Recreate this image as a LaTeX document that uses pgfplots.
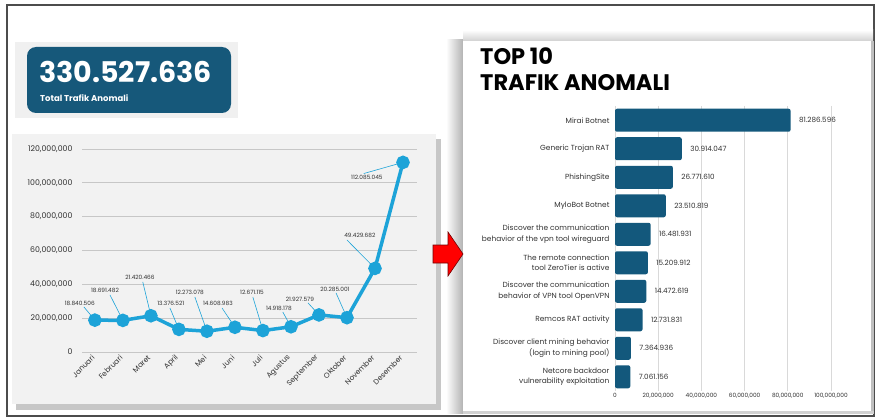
\documentclass[border=0pt]{standalone}
\usepackage{pgfplots}
\pgfplotsset{compat=1.18}
\usepackage{fontspec}
\setmainfont{Poppins}
\definecolor{lineblue}{RGB}{29,163,216}
\definecolor{barblue}{RGB}{19,88,124}
\definecolor{badgeblue}{RGB}{22,88,122}
\definecolor{txt}{RGB}{50,50,50}
\definecolor{panelgray}{RGB}{242,242,242}
\begin{document}
\begin{tikzpicture}
\useasboundingbox (0,0) rectangle (876pt,-417pt);
\fill[white] (0,0) rectangle (876pt,-417pt);
\begin{scope}[x=1pt,y=-1pt]
  % outer frame
  \draw[black!70,line width=1.2pt] (7,5) rectangle (874,416);
  % badge
  \fill[black!6] (15,42) rectangle (238,118);
  \fill[badgeblue,rounded corners=9pt] (27,47) rectangle (231,113);
  \node[anchor=base west,inner sep=0,text=white,font=\fontsize{28.5}{30}\selectfont\bfseries] at (39,83) {330.527.636};
  \node[anchor=base west,inner sep=0,text=white,font=\fontsize{8.5}{10}\selectfont\bfseries] at (40,102) {Total Trafik Anomali};
  % left panel
  \fill[black!22] (16,139) rectangle (441,410);
  \fill[panelgray] (12,134) rectangle (436,404);
  % right panel shadows
  \shade[left color=white,right color=black!30] (446,40) rectangle (463,413);
  \shade[top color=white,bottom color=black!18] (463,30) rectangle (873,41);
  \fill[white] (463,41) rectangle (871,411);
  \fill[black!25] (871,41) rectangle (874,413);
  \fill[black!18] (463,411) rectangle (874,414);
  % title
  \node[anchor=base west,inner sep=0,font=\fontsize{22.5}{24}\selectfont\bfseries] at (480,65) {TOP 10};
  \node[anchor=base west,inner sep=0,font=\fontsize{22.5}{24}\selectfont\bfseries] at (480,91) {TRAFIK ANOMALI};
  % red arrow
  \filldraw[fill=red,draw=red!45!black,line width=0.6pt] (433,245) -- (448,245) -- (448,232) -- (463,254) -- (448,276) -- (448,263) -- (433,263) -- cycle;
\end{scope}

% line chart
\begin{axis}[
  at={(82pt,-352pt)}, anchor=south west,
  scale only axis, width=335pt, height=203pt,
  xmin=-0.46, xmax=11.5, ymin=0, ymax=120000000,
  axis line style={draw=none}, major tick length=0pt,
  ymajorgrids, grid style={black!22,line width=0.8pt},
  ytick={0,20000000,40000000,60000000,80000000,100000000,120000000},
  scaled y ticks=false,
  /pgf/number format/fixed,
  /pgf/number format/1000 sep={,},
  /pgf/number format/assume math mode=true,
  yticklabel style={font=\fontsize{7.8}{9}\selectfont,text=txt,xshift=-6pt},
  xtick={0,...,11},
  xticklabels={Januari,Februari,Maret,April,Mei,Juni,Juli,Agustus,September,Oktober,November,Desember},
  xticklabel style={rotate=45,anchor=east,font=\fontsize{7.3}{9}\selectfont,text=txt,xshift=-1pt,yshift=-2pt},
  clip=false,
]
\addplot[color=lineblue,line width=3.5pt,mark=*,mark size=5pt,mark options={fill=lineblue,draw=none}] coordinates {
  (0,18840506) (1,18691482) (2,21420466) (3,13376521) (4,12273078) (5,14608983)
  (6,12671115) (7,14918178) (8,21927579) (9,20285001) (10,49429682) (11,112085045)};
\begin{scope}[lineblue,line width=0.6pt]
\draw (axis cs:-0.39,26600000) -- (axis cs:0,18840506);
\draw (axis cs:0.54,33700000) -- (axis cs:1,18691482);
\draw (axis cs:1.71,41400000) -- (axis cs:2,21420466);
\draw (axis cs:2.68,26000000) -- (axis cs:3,13376521);
\draw (axis cs:3.57,32500000) -- (axis cs:4,12273078);
\draw (axis cs:4.54,26000000) -- (axis cs:5,14608983);
\draw (axis cs:5.64,32500000) -- (axis cs:6,12671115);
\draw (axis cs:6.71,23600000) -- (axis cs:7,14918178);
\draw (axis cs:7.61,29000000) -- (axis cs:8,21927579);
\draw (axis cs:8.61,34900000) -- (axis cs:9,20285001);
\draw (axis cs:9.0,66200000) -- (axis cs:10,49429682);
\draw (axis cs:9.6,105500000) -- (axis cs:11,112085045);
\end{scope}
\begin{scope}[every node/.style={font=\fontsize{5.8}{7}\selectfont,text=txt,inner sep=0.5pt}]
\node at (axis cs:-0.54,28960000) {18.840.506};
\node at (axis cs:0.36,36650000) {18.691.482};
\node at (axis cs:1.61,44330000) {21.420.466};
\node at (axis cs:2.71,28960000) {13.376.521};
\node at (axis cs:3.39,35470000) {12.273.078};
\node at (axis cs:4.39,28960000) {14.608.983};
\node at (axis cs:5.61,35470000) {12.671.115};
\node at (axis cs:6.57,26010000) {14.918.178};
\node at (axis cs:7.32,31330000) {21.927.579};
\node at (axis cs:8.57,37240000) {20.285.001};
\node at (axis cs:9.46,69160000) {49.429.682};
\node at (axis cs:9.71,103400000) {112.085.045};
\end{scope}
\end{axis}

% bar chart
\begin{axis}[
  at={(615pt,-391pt)}, anchor=south west,
  scale only axis, width=216pt, height=285pt,
  xbar, bar width=23pt,
  xmin=0, xmax=100000000, ymin=-0.5, ymax=9.5, y dir=reverse,
  axis line style={draw=none}, major tick length=0pt,
  xmajorgrids, grid style={black!15,line width=0.7pt},
  xtick={0,20000000,40000000,60000000,80000000,100000000},
  scaled x ticks=false,
  /pgf/number format/fixed,
  /pgf/number format/1000 sep={,},
  /pgf/number format/assume math mode=true,
  xticklabel style={font=\fontsize{5.8}{7}\selectfont,text=txt,yshift=1pt},
  ytick={0,...,9},
  yticklabels={{Mirai Botnet},{Generic Trojan RAT},{PhishingSite},{MyloBot Botnet},{Discover the communication\\behavior of the vpn tool wireguard},{The remote connection\\tool ZeroTier is active},{Discover the communication\\behavior of VPN tool OpenVPN},{Remcos RAT activity},{Discover client mining behavior\\(login to mining pool)},{Netcore backdoor\\vulnerability exploitation}},
  yticklabel style={align=right,font=\fontsize{7.4}{10.5}\selectfont,text=txt,xshift=-2pt},
  nodes near coords, point meta=explicit symbolic,
  nodes near coords style={anchor=west,font=\fontsize{7.2}{8}\selectfont,text=txt,xshift=5pt},
  clip=false,
]
\addplot[fill=barblue,draw=none,rounded corners=2pt] coordinates {
  (81286596,0) [81.286.596]
  (30914047,1) [30.914.047]
  (26771610,2) [26.771.610]
  (23510819,3) [23.510.819]
  (16481931,4) [16.481.931]
  (15209912,5) [15.209.912]
  (14472619,6) [14.472.619]
  (12731831,7) [12.731.831]
  (7364936,8) [7.364.936]
  (7061156,9) [7.061.156]};
\end{axis}
\end{tikzpicture}
\end{document}
